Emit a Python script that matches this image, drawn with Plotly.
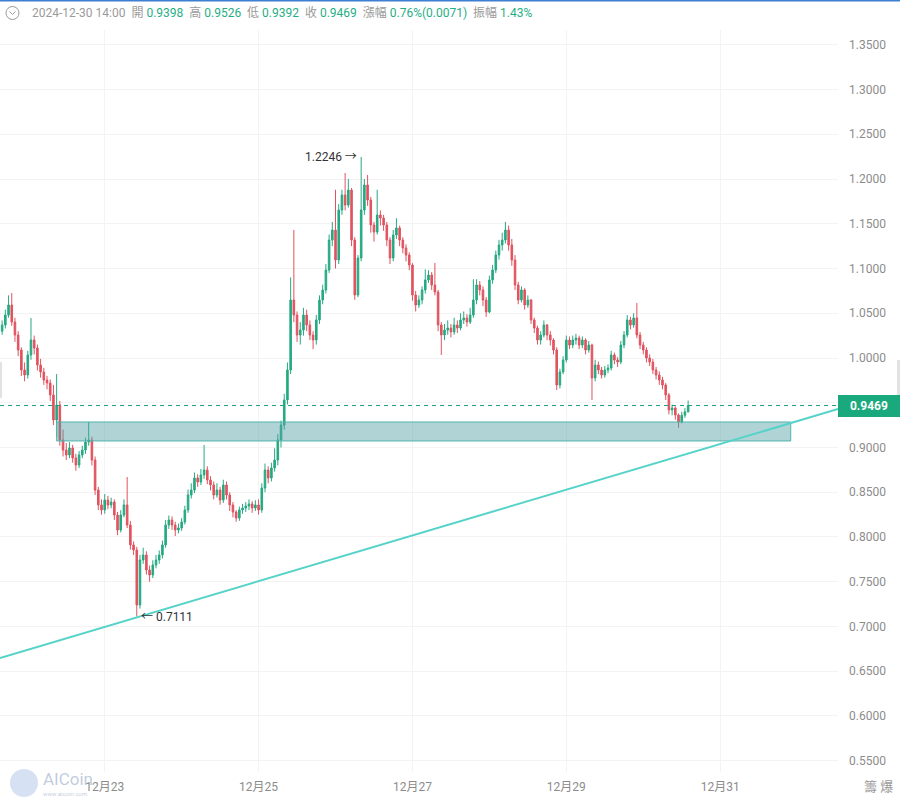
import pandas as pd
import plotly.graph_objects as go

# hourly candles, last one 2024-12-30 14:00
last_time = "2024-12-30 14:00"
first_open = 1.0300

closes = [
    1.0369, 1.0480, 1.0592, 1.0402, 1.0257, 1.0089, 0.9866, 0.9810, 1.0034, 1.0201,
    1.0112, 0.9922, 0.9844, 0.9754, 0.9721, 0.9587, 0.9307, 0.9475, 0.9084, 0.8972,
    0.8916, 0.8994, 0.8883, 0.8804, 0.8916, 0.8972, 0.9061, 0.9084, 0.8860, 0.8525,
    0.8358, 0.8302, 0.8413, 0.8358, 0.8391, 0.8246, 0.8078, 0.8246, 0.8358, 0.8134,
    0.7911, 0.7855, 0.7240, 0.7743, 0.7799, 0.7631, 0.7575, 0.7687, 0.7743, 0.7799,
    0.7911, 0.8134, 0.8190,
    0.8134, 0.8078, 0.8101, 0.8168, 0.8302, 0.8469, 0.8525, 0.8659, 0.8615, 0.8693,
    0.8749, 0.8637, 0.8581, 0.8469, 0.8525, 0.8413, 0.8581, 0.8469, 0.8358, 0.8279,
    0.8212, 0.8302, 0.8324, 0.8346, 0.8369, 0.8324, 0.8358, 0.8302, 0.8547, 0.8749,
    0.8659, 0.8771, 0.8860, 0.9084, 0.9251, 0.9531, 0.9866, 1.0648, 1.0480, 1.0257,
    1.0313, 1.0480, 1.0369, 1.0257, 1.0201, 1.0425, 1.0648, 1.0760, 1.0983, 1.1318,
    1.1430, 1.1095, 1.1654, 1.1821, 1.1709,
    1.1877, 1.1318, 1.0704, 1.1117, 1.1654, 1.1933, 1.1765, 1.1486, 1.1408, 1.1598,
    1.1564, 1.1486, 1.1318, 1.1117, 1.1374, 1.1453, 1.1318, 1.1229, 1.1151, 1.1039,
    1.0704, 1.0592, 1.0648, 1.0760, 1.0872, 1.0927, 1.0816, 1.0737, 1.0369, 1.0257,
    1.0313, 1.0335, 1.0291, 1.0369, 1.0335, 1.0425, 1.0447, 1.0402, 1.0480, 1.0648,
    1.0816, 1.0760, 1.0648, 1.0514, 1.0872, 1.0983, 1.1151, 1.1263, 1.1318, 1.1430,
    1.1263, 1.1095,
    1.0816, 1.0648, 1.0760, 1.0592, 1.0648, 1.0425, 1.0335, 1.0201, 1.0257, 1.0369,
    1.0257, 1.0201, 1.0089, 0.9698, 0.9844, 0.9978, 1.0201, 1.0145, 1.0201, 1.0223,
    1.0145, 1.0201, 1.0089, 1.0145, 0.9777, 0.9922, 0.9866, 0.9810, 0.9866, 0.9888,
    1.0034, 0.9978, 0.9955, 1.0145, 1.0257, 1.0425, 1.0369, 1.0447, 1.0257, 1.0145,
    1.0089, 1.0000, 0.9955, 0.9866, 0.9810, 0.9754, 0.9698, 0.9587, 0.9419, 0.9441,
    0.9363, 0.9285, 0.9360, 0.9398, 0.9469,
]

highs = [
    1.0420, 1.0540, 1.0700, 1.0726, 1.0450, 1.0300, 1.0120, 0.9950, 1.0080, 1.0447,
    1.0250, 1.0150, 0.9990, 0.9890, 0.9800, 0.9760, 0.9700, 0.9820, 0.9520, 0.9200,
    0.9050, 0.9060, 0.9030, 0.8930, 0.8960, 0.9020, 0.9110, 0.9285, 0.9120, 0.8900,
    0.8560, 0.8420, 0.8480, 0.8460, 0.8440, 0.8420, 0.8280, 0.8300, 0.8420, 0.8670,
    0.8180, 0.7950, 0.7890, 0.7800, 0.7880, 0.7840, 0.7680, 0.7740, 0.7800, 0.7850,
    0.7960, 0.8190, 0.8240,
    0.8230, 0.8170, 0.8150, 0.8210, 0.8350, 0.8530, 0.8600, 0.8720, 0.8700, 0.8760,
    0.9028, 0.8790, 0.8680, 0.8620, 0.8600, 0.8560, 0.8640, 0.8620, 0.8500, 0.8390,
    0.8300, 0.8340, 0.8370, 0.8390, 0.8420, 0.8400, 0.8410, 0.8420, 0.8600, 0.8820,
    0.8790, 0.8830, 0.8990, 0.9150, 0.9300, 0.9600, 0.9950, 1.0900, 1.1430, 1.0520,
    1.0400, 1.0560, 1.0540, 1.0420, 1.0300, 1.0480, 1.0700, 1.0820, 1.1050, 1.1380,
    1.1520, 1.1880, 1.1720, 1.1880, 1.2067,
    1.2000, 1.1900, 1.1350, 1.1150, 1.2246, 1.2000, 1.2045, 1.1800, 1.1520, 1.1880,
    1.1650, 1.1600, 1.1520, 1.1350, 1.1430, 1.1560, 1.1480, 1.1350, 1.1270, 1.1180,
    1.1060, 1.0750, 1.0700, 1.0800, 1.0990, 1.0980, 1.0960, 1.1061, 1.0760, 1.0400,
    1.0380, 1.0420, 1.0380, 1.0450, 1.0420, 1.0500, 1.0520, 1.0490, 1.0560, 1.0880,
    1.0880, 1.0860, 1.0800, 1.0680, 1.0920, 1.1040, 1.1200, 1.1320, 1.1400, 1.1520,
    1.1480, 1.1330,
    1.1150, 1.0850, 1.0800, 1.0780, 1.0700, 1.0660, 1.0450, 1.0360, 1.0300, 1.0420,
    1.0380, 1.0300, 1.0220, 1.0120, 0.9880, 1.0020, 1.0250, 1.0240, 1.0250, 1.0270,
    1.0250, 1.0240, 1.0220, 1.0190, 1.0160, 0.9980, 0.9960, 0.9900, 0.9910, 0.9930,
    1.0080, 1.0060, 1.0010, 1.0190, 1.0300, 1.0480, 1.0460, 1.0500, 1.0615, 1.0290,
    1.0180, 1.0120, 1.0040, 0.9990, 0.9900, 0.9850, 0.9790, 0.9720, 0.9610, 0.9480,
    0.9460, 0.9380, 0.9400, 0.9440, 0.9526,
]

lows = [
    1.0260, 1.0330, 1.0450, 1.0360, 1.0180, 1.0020, 0.9800, 0.9740, 0.9770, 0.9980,
    1.0040, 0.9860, 0.9780, 0.9700, 0.9650, 0.9520, 0.9250, 0.9120, 0.9020, 0.8900,
    0.8860, 0.8880, 0.8830, 0.8740, 0.8770, 0.8880, 0.8930, 0.9020, 0.8800, 0.8470,
    0.8300, 0.8250, 0.8260, 0.8310, 0.8320, 0.8190, 0.8020, 0.8050, 0.8220, 0.8100,
    0.7860, 0.7800, 0.7111, 0.7200, 0.7700, 0.7580, 0.7500, 0.7540, 0.7650, 0.7700,
    0.7760, 0.7880, 0.8090,
    0.8080, 0.8010, 0.8040, 0.8070, 0.8140, 0.8270, 0.8430, 0.8490, 0.8560, 0.8580,
    0.8650, 0.8590, 0.8520, 0.8420, 0.8440, 0.8360, 0.8380, 0.8420, 0.8290, 0.8220,
    0.8170, 0.8180, 0.8260, 0.8280, 0.8300, 0.8270, 0.8290, 0.8250, 0.8270, 0.8500,
    0.8600, 0.8620, 0.8730, 0.8800, 0.9000, 0.9200, 0.9480, 0.9820, 1.0400, 1.0180,
    1.0150, 1.0250, 1.0300, 1.0200, 1.0100, 1.0150, 1.0380, 1.0600, 1.0720, 1.0950,
    1.1250, 1.1000, 1.1050, 1.1600, 1.1650,
    1.1680, 1.1250, 1.0650, 1.0680, 1.1080, 1.1600, 1.1700, 1.1400, 1.1300, 1.1380,
    1.1480, 1.1420, 1.1250, 1.1050, 1.1080, 1.1330, 1.1250, 1.1170, 1.1080, 1.0980,
    1.0640, 1.0520, 1.0560, 1.0600, 1.0720, 1.0840, 1.0760, 1.0700, 1.0300, 1.0034,
    1.0200, 1.0260, 1.0230, 1.0260, 1.0280, 1.0310, 1.0380, 1.0350, 1.0380, 1.0450,
    1.0600, 1.0700, 1.0580, 1.0460, 1.0500, 1.0830, 1.0950, 1.1100, 1.1200, 1.1280,
    1.1200, 1.1030,
    1.0760, 1.0600, 1.0620, 1.0540, 1.0560, 1.0380, 1.0280, 1.0150, 1.0150, 1.0230,
    1.0200, 1.0140, 1.0040, 0.9642, 0.9660, 0.9820, 0.9950, 1.0100, 1.0110, 1.0150,
    1.0100, 1.0110, 1.0040, 1.0060, 0.9531, 0.9740, 0.9820, 0.9770, 0.9780, 0.9830,
    0.9860, 0.9930, 0.9900, 0.9930, 1.0110, 1.0230, 1.0320, 1.0340, 1.0220, 1.0100,
    1.0040, 0.9950, 0.9910, 0.9820, 0.9760, 0.9700, 0.9650, 0.9530, 0.9370, 0.9360,
    0.9310, 0.9220, 0.9270, 0.9330, 0.9392,
]

# drawn objects
zone_start, zone_end = "2024-12-22 09:00", "2024-12-31 22:00"
zone_low, zone_high = 0.9073, 0.9285
trend_start, trend_end = "2024-12-21 15:20", "2025-01-01 12:45"
trend_p0, trend_p1 = 0.6648, 0.9430

x_range = ["2024-12-21 15:20", "2025-01-01 12:45"]
tick_dates = ["2024-12-23", "2024-12-25", "2024-12-27", "2024-12-29", "2024-12-31"]
tick_text = ["12月23", "12月25", "12月27", "12月29", "12月31"]

header = [("2024-12-30 14:00", None), ("開", "0.9398"), ("高", "0.9526"),
          ("低", "0.9392"), ("收", "0.9469"), ("漲幅", "0.76%(0.0071)"),
          ("振幅", "1.43%")]

opens = [first_open] + closes[:-1]
times = pd.date_range(end=last_time, periods=len(closes), freq="h")

UP = "#26a982"
DOWN = "#e0535f"
GRAY = "#8c8c8c"
FONT = "Roboto, Noto Sans CJK TC, sans-serif"

W, H = 900, 799
L, R, T, B = 0, 62, 30, 27
PW, PH = W - L - R, H - T - B


def px(x):
    return (x - L) / PW


def py(y):
    return (H - B - y) / PH


fig = go.Figure()

fig.add_trace(go.Candlestick(
    x=times, open=opens, high=highs, low=lows, close=closes,
    increasing=dict(line=dict(color=UP, width=1), fillcolor=UP),
    decreasing=dict(line=dict(color=DOWN, width=1), fillcolor=DOWN),
    whiskerwidth=0,
    showlegend=False,
))

shapes = [
    # last price dashed line
    dict(type="line", xref="paper", yref="y", x0=0, x1=1,
         y0=closes[-1], y1=closes[-1],
         line=dict(color="#1f9e86", width=1, dash="4px,4px")),
    # support zone
    dict(type="rect", xref="x", yref="y", x0=zone_start, x1=zone_end,
         y0=zone_low, y1=zone_high, fillcolor="rgba(80,160,165,0.45)",
         line=dict(color="#4fb5ab", width=1), layer="above"),
    # trend line
    dict(type="line", xref="x", yref="y", x0=trend_start, x1=trend_end,
         y0=trend_p0, y1=trend_p1, line=dict(color="#55d3c8", width=2)),
    # top blue strip
    dict(type="rect", xref="paper", yref="paper", x0=px(0), x1=px(900),
         y0=py(1.5), y1=py(0), fillcolor="#3d7fd0", line=dict(width=0)),
    # header icon
    dict(type="circle", xref="paper", yref="paper", x0=px(6), x1=px(19),
         y0=py(19.5), y1=py(6.5), line=dict(color="#9a9a9a", width=1)),
    dict(type="path", xref="paper", yref="paper",
         path=f"M {px(9.5)},{py(11.5)} L {px(12.5)},{py(14.5)} L {px(15.5)},{py(11.5)}",
         line=dict(color="#9a9a9a", width=1)),
    # side handles
    dict(type="rect", xref="paper", yref="paper", x0=px(0), x1=px(2),
         y0=py(398), y1=py(362), fillcolor="#e2e2e2", line=dict(width=0)),
    dict(type="rect", xref="paper", yref="paper", x0=px(897), x1=px(900),
         y0=py(395), y1=py(360), fillcolor="#e2e2e2", line=dict(width=0)),
    # watermark logo
    dict(type="circle", xref="paper", yref="paper", x0=px(10), x1=px(38),
         y0=py(797), y1=py(769), fillcolor="rgba(120,160,220,0.30)",
         line=dict(width=0)),
]

hdr = []
for label, val in header:
    s = f'<span style="color:#9a9a9a">{label}</span>'
    if val:
        s += f' <span style="color:#1fae86">{val}</span>'
    hdr.append(s)

i_hi = highs.index(max(highs))
i_lo = lows.index(min(lows))

annotations = [
    dict(xref="paper", yref="paper", x=px(30), y=py(13), xanchor="left",
         yanchor="middle", showarrow=False, text="  ".join(hdr),
         font=dict(size=12, family=FONT)),
    dict(xref="x", yref="y", x=times[i_hi], y=highs[i_hi], xanchor="right",
         yanchor="middle", xshift=-2, showarrow=False,
         text=f"{highs[i_hi]:.4f} →", font=dict(size=12, color="#333", family=FONT)),
    dict(xref="x", yref="y", x=times[i_lo], y=lows[i_lo], xanchor="left",
         yanchor="middle", xshift=2, showarrow=False,
         text=f"← {lows[i_lo]:.4f}", font=dict(size=12, color="#333", family=FONT)),
    dict(xref="paper", yref="y", x=1, y=closes[-1], xanchor="left",
         yanchor="middle", showarrow=False, text=f"<b>{closes[-1]:.4f}</b>",
         bgcolor="#1aa97c", bordercolor="#1aa97c", borderpad=3, width=54, height=14,
         font=dict(size=12, color="white", family=FONT)),
    dict(xref="paper", yref="paper", x=px(878), y=py(786), xanchor="center",
         yanchor="middle", showarrow=False, text="籌 爆",
         font=dict(size=13, color="#9a9a9a", family=FONT)),
    dict(xref="paper", yref="paper", x=px(41), y=py(779), xanchor="left",
         yanchor="middle", showarrow=False, text="AICoin",
         font=dict(size=17, color="rgba(140,160,190,0.55)", family=FONT)),
    dict(xref="paper", yref="paper", x=px(41), y=py(793), xanchor="left",
         yanchor="middle", showarrow=False, text="www.aicoin.com",
         font=dict(size=6, color="rgba(140,160,190,0.55)", family=FONT)),
]

fig.update_layout(
    width=W, height=H,
    margin=dict(l=L, r=R, t=T, b=B),
    paper_bgcolor="white",
    plot_bgcolor="white",
    font=dict(family=FONT, size=12, color=GRAY),
    shapes=shapes,
    annotations=annotations,
    xaxis=dict(
        type="date", range=x_range, rangeslider=dict(visible=False),
        tickvals=tick_dates, ticktext=tick_text,
        showgrid=True, gridcolor="#f3f3f3", zeroline=False, showline=False,
        ticks="", ticklabelstandoff=6, tickfont=dict(size=12, color=GRAY),
    ),
    yaxis=dict(
        side="right", range=[0.5374, 1.3665], tick0=0.55, dtick=0.05,
        tickformat=".4f", showgrid=True, gridcolor="#f3f3f3", zeroline=False,
        showline=False, ticks="", ticklabelstandoff=10,
        tickfont=dict(size=12, color=GRAY),
    ),
)

fig.write_html(
    "out.html",
    config={"displayModeBar": False},
    post_script="document.body.style.margin='0';document.body.style.overflow='hidden';",
)
